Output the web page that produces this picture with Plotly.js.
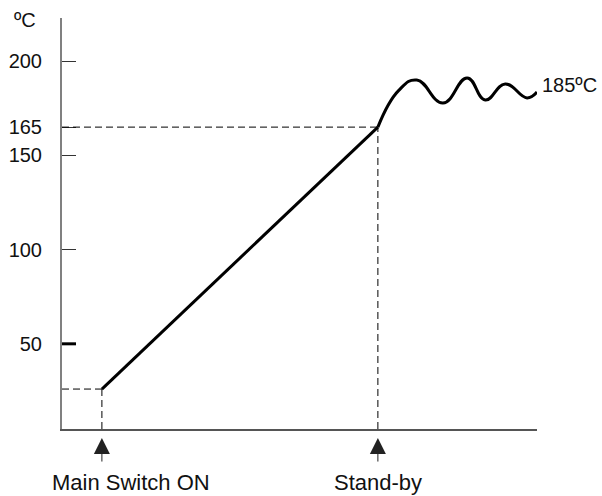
<!DOCTYPE html>
<html>
<head>
<meta charset="utf-8">
<script src="https://cdn.plot.ly/plotly-3.0.1.min.js"></script>
<style>
  html, body { margin: 0; padding: 0; background: #fff; }
  #chart { width: 602px; height: 496px; }
</style>
</head>
<body>
<div id="chart"></div>
<script>
// ---- data ----
var rampTime = [8.4, 66.5];          // main switch ON -> stand-by
var rampTemp = [26, 165];            // degC
var waveTime = [66.5, 70.9, 74.7, 80.2, 85.3, 89.1, 93.3, 97.9, 100];
var waveTemp = [165, 184.5, 190, 177.8, 191.1, 179.4, 187.9, 180.5, 183.6];
var tickValues = [50, 100, 150, 165, 200];
var tickLabels = ['50', '100', '150', '165', '200'];
var switchOnTime = 8.4;
var startTemp = 26;
var standbyTime = 66.5;
var standbyTemp = 165;
var plateauLabel = '185ºC';
var unitLabel = 'ºC';
var eventLabels = ['Main Switch ON', 'Stand-by'];

var xRange = [0, 100];
var yRange = [4.8, 222.9];
var FONT = 'Liberation Sans, Arial, sans-serif';

var traces = [
  { x: rampTime, y: rampTemp, type: 'scatter', mode: 'lines',
    line: { color: '#000', width: 3 }, hoverinfo: 'skip' },
  { x: waveTime, y: waveTemp, type: 'scatter', mode: 'lines',
    line: { color: '#000', width: 3, shape: 'spline', smoothing: 1.3 }, hoverinfo: 'skip' }
];

var dash = { color: '#000', width: 1, dash: '7px,4px' };
var shapes = [
  // start box
  { type: 'line', xref: 'x', yref: 'y', x0: xRange[0], x1: switchOnTime, y0: startTemp, y1: startTemp, line: dash },
  { type: 'line', xref: 'x', yref: 'y', x0: switchOnTime, x1: switchOnTime, y0: yRange[0], y1: startTemp, line: dash },
  // stand-by guides
  { type: 'line', xref: 'x', yref: 'y', x0: xRange[0], x1: standbyTime, y0: standbyTemp, y1: standbyTemp, line: dash },
  { type: 'line', xref: 'x', yref: 'y', x0: standbyTime, x1: standbyTime, y0: yRange[0], y1: standbyTemp, line: dash },
  // bold 50 tick
  { type: 'line', xref: 'paper', yref: 'y', x0: 0, x1: 0.0295, y0: tickValues[0], y1: tickValues[0], line: { color: '#000', width: 3 } }
];

var arrowCommon = { yref: 'paper', y: -0.022, showarrow: true, arrowhead: 2, arrowsize: 3.2,
  arrowwidth: 1, arrowcolor: '#222', ax: 0, ay: 25, text: '' };

var annotations = [
  Object.assign({ xref: 'x', x: switchOnTime }, arrowCommon),
  Object.assign({ xref: 'x', x: standbyTime }, arrowCommon),
  { xref: 'x', x: switchOnTime, xshift: 29, yref: 'paper', y: -0.131, yanchor: 'middle', xanchor: 'center',
    text: eventLabels[0], showarrow: false, font: { family: FONT, size: 22, color: '#111' } },
  { xref: 'x', x: standbyTime, yref: 'paper', y: -0.131, yanchor: 'middle', xanchor: 'center',
    text: eventLabels[1], showarrow: false, font: { family: FONT, size: 22, color: '#111' } },
  { xref: 'x', x: xRange[1], xshift: 3, yref: 'y', y: 185, yshift: 4, xanchor: 'left', yanchor: 'middle',
    text: plateauLabel, showarrow: false, font: { family: FONT, size: 20, color: '#111' } },
  { xref: 'paper', x: -0.078, yref: 'paper', y: 0.995, xanchor: 'center', yanchor: 'middle',
    text: unitLabel, showarrow: false, font: { family: FONT, size: 20, color: '#111' } }
];

var layout = {
  width: 602, height: 496,
  margin: { l: 62, r: 65, t: 18, b: 67, pad: 0 },
  paper_bgcolor: '#fff', plot_bgcolor: '#fff',
  showlegend: false,
  xaxis: { range: xRange, showline: true, linecolor: '#555', linewidth: 1.5,
    showgrid: false, zeroline: false, showticklabels: false, ticks: '', fixedrange: true },
  yaxis: { range: yRange, showline: true, linecolor: '#808080', linewidth: 2,
    showgrid: false, zeroline: false, tickmode: 'array', tickvals: tickValues, ticktext: tickLabels,
    ticks: 'inside', ticklen: 14, tickwidth: 1, tickcolor: '#333', ticklabelstandoff: 14,
    tickfont: { family: FONT, size: 20, color: '#111' }, fixedrange: true },
  shapes: shapes,
  annotations: annotations
};

Plotly.newPlot('chart', traces, layout, { displayModeBar: false, staticPlot: true });
</script>
</body>
</html>
